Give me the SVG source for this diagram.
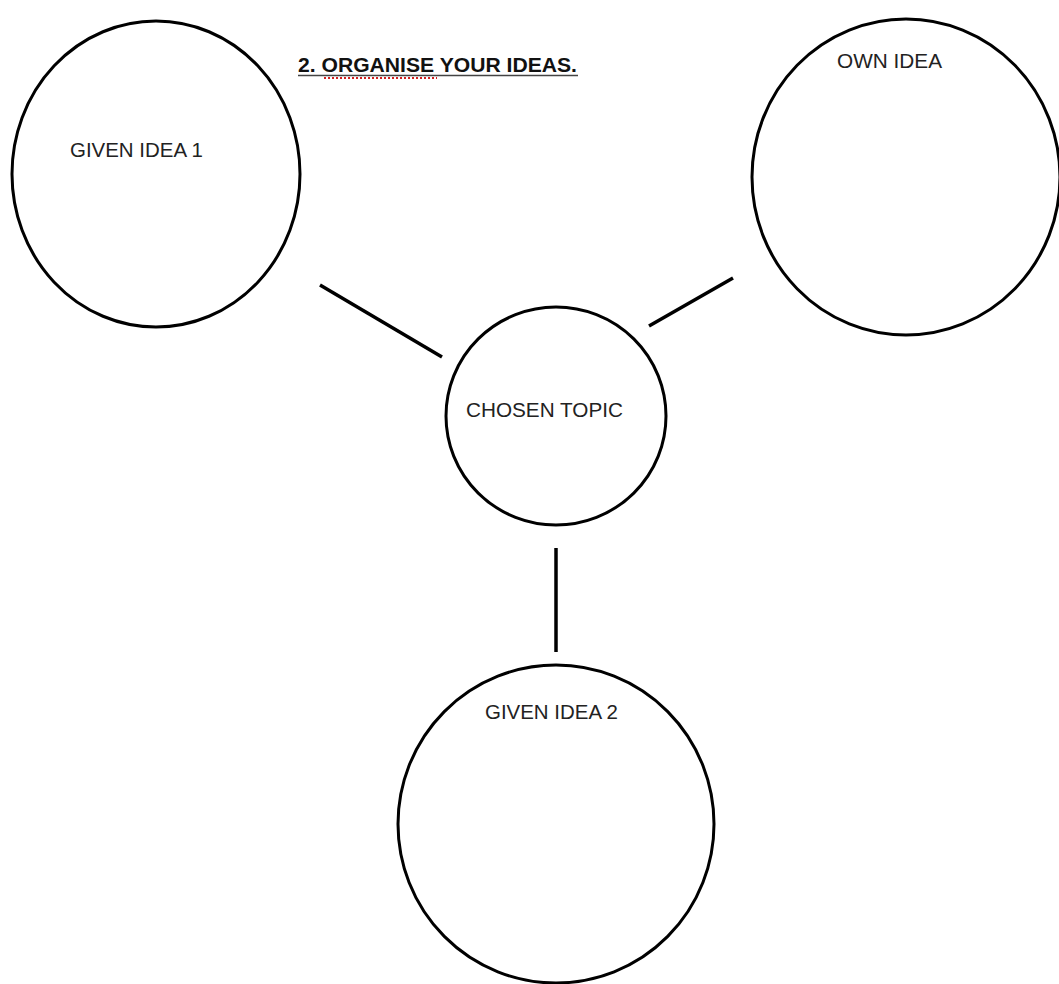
<svg xmlns="http://www.w3.org/2000/svg" width="1059" height="984" viewBox="0 0 1059 984">
  <style>
    .node { fill: #ffffff; stroke: #000000; stroke-width: 3; }
    .label { font-family: "Liberation Sans", Arial, Helvetica, sans-serif; font-size: 20.5px; fill: #222222; }
    .title { font-family: "Liberation Sans", Arial, Helvetica, sans-serif; font-size: 21px; font-weight: bold; fill: #111111; }
    .conn { stroke: #000000; stroke-width: 3.5; stroke-linecap: butt; fill: none; }
  </style>
  <rect x="0" y="0" width="1059" height="984" fill="#ffffff"/>
  <g id="title">
    <text class="title" x="298" y="72" textLength="279" lengthAdjust="spacingAndGlyphs">2. ORGANISE YOUR IDEAS.</text>
    <line x1="298" y1="75.5" x2="578" y2="75.5" stroke="#444444" stroke-width="1.5"/>
    <line x1="324" y1="78" x2="437" y2="78" stroke="#d02020" stroke-width="2" stroke-dasharray="2,2"/>
  </g>
  <g id="connectors">
    <line class="conn" x1="320" y1="285" x2="442" y2="357"/>
    <line class="conn" x1="649" y1="326" x2="733" y2="278"/>
    <line class="conn" x1="556" y1="548" x2="556" y2="652"/>
  </g>
  <g id="given-idea-1">
    <ellipse class="node" cx="156" cy="174" rx="144" ry="153"/>
    <text class="label" x="70" y="157" textLength="133" lengthAdjust="spacingAndGlyphs">GIVEN IDEA 1</text>
  </g>
  <g id="own-idea">
    <ellipse class="node" cx="906" cy="177" rx="154" ry="158"/>
    <text class="label" x="837" y="68" textLength="105" lengthAdjust="spacingAndGlyphs">OWN IDEA</text>
  </g>
  <g id="chosen-topic">
    <ellipse class="node" cx="556" cy="416" rx="110" ry="109"/>
    <text class="label" x="466" y="417" textLength="157" lengthAdjust="spacingAndGlyphs">CHOSEN TOPIC</text>
  </g>
  <g id="given-idea-2">
    <ellipse class="node" cx="556" cy="824" rx="158" ry="159"/>
    <text class="label" x="485" y="719" textLength="133" lengthAdjust="spacingAndGlyphs">GIVEN IDEA 2</text>
  </g>
</svg>
